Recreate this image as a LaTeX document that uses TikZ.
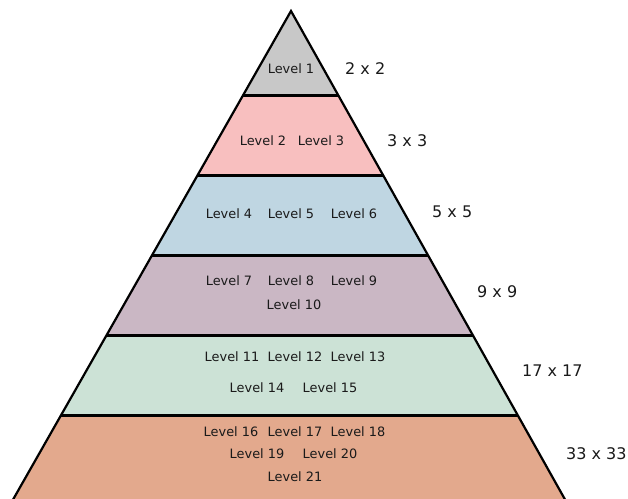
\documentclass[tikz,border=0pt]{standalone}
\usepackage{fontspec}
\setmainfont{DejaVu Sans}
\definecolor{cgray}{HTML}{C8C8C8}
\definecolor{cpink}{HTML}{F8BFBF}
\definecolor{cblue}{HTML}{BFD6E2}
\definecolor{cmauve}{HTML}{CAB7C4}
\definecolor{cgreen}{HTML}{CCE2D6}
\definecolor{csalmon}{HTML}{E3A98D}
\definecolor{ctext}{HTML}{1A1A1A}
\tikzset{
  lvl/.style={font=\fontsize{12.9}{15}\selectfont, text=ctext, inner sep=0pt, anchor=center},
  sz/.style={font=\fontsize{16}{19}\selectfont, text=ctext, inner sep=0pt, anchor=west},
  sep/.style={draw=black, line width=3pt},
  outline/.style={draw=black, line width=2.2pt, line join=miter}
}
\begin{document}
\begin{tikzpicture}[x=1pt,y=-1pt]
\useasboundingbox (0,0) rectangle (628,498);
\clip (0,0) rectangle (628,498);
\coordinate (apex) at (291,11);
\coordinate (l1) at (243.2,95);  \coordinate (r1) at (338.1,95);
\coordinate (l2) at (197.7,175); \coordinate (r2) at (383.0,175);
\coordinate (l3) at (152.2,255); \coordinate (r3) at (427.9,255);
\coordinate (l4) at (106.6,335); \coordinate (r4) at (472.8,335);
\coordinate (l5) at (61.1,415);  \coordinate (r5) at (517.6,415);
\coordinate (l6) at (7.1,510);   \coordinate (r6) at (570.9,510);
% bands
\fill[cgray] (apex) -- (r1) -- (l1) -- cycle;
\fill[cpink] (l1) -- (r1) -- (r2) -- (l2) -- cycle;
\fill[cblue] (l2) -- (r2) -- (r3) -- (l3) -- cycle;
\fill[cmauve] (l3) -- (r3) -- (r4) -- (l4) -- cycle;
\fill[cgreen] (l4) -- (r4) -- (r5) -- (l5) -- cycle;
\fill[csalmon] (l5) -- (r5) -- (r6) -- (l6) -- cycle;
% separators
\draw[sep] (l1) -- (r1);
\draw[sep] (l2) -- (r2);
\draw[sep] (l3) -- (r3);
\draw[sep] (l4) -- (r4);
\draw[sep] (l5) -- (r5);
% outline
\draw[outline] (l6) -- (apex) -- (r6);
% level labels
\node[lvl] (t1) at (291,69) {Level 1};
\node[lvl] (t2) at (263,141) {Level 2};
\node[lvl] (t3) at (321,141) {Level 3};
\node[lvl] (t4) at (229,214) {Level 4};
\node[lvl] (t5) at (291,214) {Level 5};
\node[lvl] (t6) at (354,214) {Level 6};
\node[lvl] (t7) at (229,281) {Level 7};
\node[lvl] (t8) at (291,281) {Level 8};
\node[lvl] (t9) at (354,281) {Level 9};
\node[lvl] (t10) at (294,305) {Level 10};
\node[lvl] (t11) at (232,357) {Level 11};
\node[lvl] (t12) at (295,357) {Level 12};
\node[lvl] (t13) at (358,357) {Level 13};
\node[lvl] (t14) at (257,388) {Level 14};
\node[lvl] (t15) at (330,388) {Level 15};
\node[lvl] (t16) at (231,432) {Level 16};
\node[lvl] (t17) at (295,432) {Level 17};
\node[lvl] (t18) at (358,432) {Level 18};
\node[lvl] (t19) at (257,454) {Level 19};
\node[lvl] (t20) at (330,454) {Level 20};
\node[lvl] (t21) at (295,477) {Level 21};
% size labels
\node[sz] (s1) at (345,69) {2 x 2};
\node[sz] (s2) at (387,141) {3 x 3};
\node[sz] (s3) at (432,212) {5 x 5};
\node[sz] (s4) at (477,292) {9 x 9};
\node[sz] (s5) at (522,371) {17 x 17};
\node[sz] (s6) at (566,454) {33 x 33};
\end{tikzpicture}
\end{document}
